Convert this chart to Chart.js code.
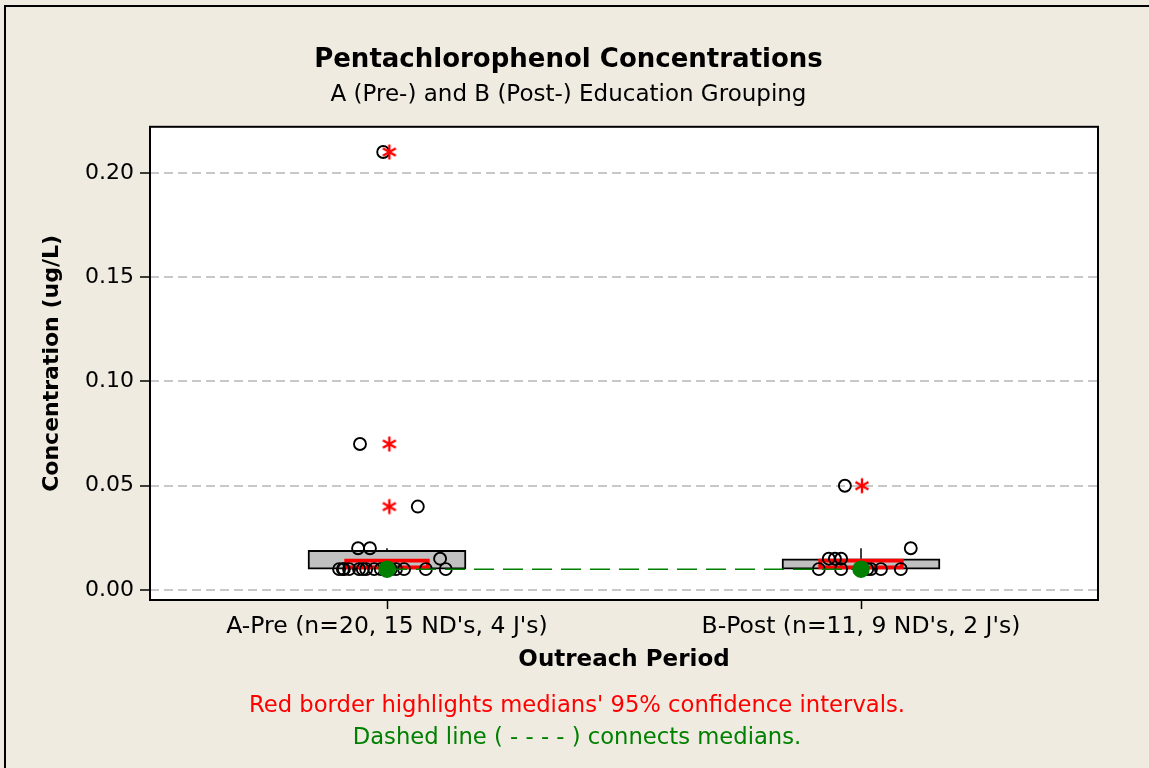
<!DOCTYPE html>
<html>
<head>
<meta charset="utf-8">
<script src="https://cdn.jsdelivr.net/npm/chart.js@4"></script>
<style>
  html, body { margin: 0; padding: 0; background: #EFEBE1; }
  canvas { display: block; }
</style>
</head>
<body>
<canvas id="myChart" width="1149" height="768"></canvas>
<script>
const categories = ["A-Pre (n=20, 15 ND's, 4 J's)", "B-Post (n=11, 9 ND's, 2 J's)"];
const yTicks = [0, 0.05, 0.10, 0.15, 0.20];

// individual results (ug/L) and their horizontal jitter
const preValues = [0.21, 0.07, 0.04, 0.02, 0.02, 0.015,
    0.01, 0.01, 0.01, 0.01, 0.01, 0.01, 0.01, 0.01, 0.01, 0.01, 0.01, 0.01, 0.01, 0.01];
const preJitter = [-0.008, -0.057, 0.065, -0.061, -0.036, 0.112,
    -0.101, -0.093, -0.091, -0.080, -0.059, -0.051, -0.044, -0.027, -0.013, 0.008, 0.019, 0.036, 0.082, 0.124];
const postValues = [0.05, 0.02, 0.015, 0.015, 0.015, 0.01, 0.01, 0.01, 0.01, 0.01, 0.01];
const postJitter = [-0.034, 0.105, -0.068, -0.055, -0.042, -0.089, -0.042, 0.013, 0.021, 0.042, 0.084];

// box statistics
const boxQ1 = [0.01, 0.01];
const boxQ3 = [0.019, 0.015];
const whiskerTop = [0.02, 0.02];
const ciLow = [0.01, 0.01];
const ciHigh = [0.015, 0.015];
const medians = [0.01, 0.01];
const preOutliers = [0.21, 0.07, 0.04];
const postOutliers = [0.05];

const green = '#008000';
const font = "'DejaVu Sans', Verdana, sans-serif";

// 6-armed asterisk marker
function makeAsterisk() {
    const c = document.createElement('canvas');
    c.width = 20; c.height = 20;
    const g = c.getContext('2d');
    g.strokeStyle = '#ff0000';
    g.lineWidth = 2.4;
    g.translate(10, 10);
    for (let a of [90, 30, -30]) {
        const r = a * Math.PI / 180;
        g.beginPath();
        g.moveTo(-7.5 * Math.cos(r), -7.5 * Math.sin(r));
        g.lineTo(7.5 * Math.cos(r), 7.5 * Math.sin(r));
        g.stroke();
    }
    return c;
}
const asterisk = makeAsterisk();

function points(values, jitter, pos) {
    return values.map((v, i) => ({x: pos + jitter[i], y: v}));
}

const boxes = categories.map((c, i) => ({x: i + 1, y: [boxQ1[i], boxQ3[i]]}));
const cis = categories.map((c, i) => ({x: i + 1, y: [ciLow[i], ciHigh[i]]}));

const bgPlugin = {
    id: 'bg',
    beforeDraw(chart) {
        const ctx = chart.ctx;
        const a = chart.chartArea;
        ctx.save();
        ctx.fillStyle = '#EFEBE1';
        ctx.fillRect(0, 0, chart.width, chart.height);
        ctx.strokeStyle = '#000';
        ctx.lineWidth = 2;
        ctx.beginPath();
        ctx.moveTo(5, chart.height);
        ctx.lineTo(5, 6);
        ctx.lineTo(chart.width, 6);
        ctx.stroke();
        ctx.fillStyle = '#ffffff';
        ctx.fillRect(a.left, a.top, a.right - a.left, a.bottom - a.top);
        ctx.restore();
    },
    afterDraw(chart) {
        const ctx = chart.ctx;
        const a = chart.chartArea;
        ctx.save();
        ctx.strokeStyle = '#000';
        ctx.lineWidth = 2;
        ctx.strokeRect(a.left, a.top, a.right - a.left, a.bottom - a.top);
        // footnotes
        ctx.font = '22.7px ' + font;
        ctx.textAlign = 'center';
        ctx.textBaseline = 'middle';
        ctx.fillStyle = '#ff0000';
        ctx.fillText("Red border highlights medians' 95% confidence intervals.", 577, 706);
        ctx.fillStyle = green;
        ctx.fillText("Dashed line ( - - - - ) connects medians.", 577, 738);
        ctx.restore();
    }
};

const ctx = document.getElementById('myChart');

new Chart(ctx, {
    type: 'scatter',
    data: {
        datasets: [
            {
                type: 'line',
                label: 'medians',
                data: medians.map((v, i) => ({x: i + 1, y: v})),
                borderColor: green,
                borderWidth: 1.5,
                borderDash: [20, 9],
                pointRadius: 8,
                pointBackgroundColor: green,
                pointBorderColor: green,
                fill: false,
                order: 0
            },
            {
                label: 'pre outliers',
                data: preOutliers.map(v => ({x: 1.005, y: v})),
                pointStyle: asterisk,
                order: 1
            },
            {
                label: 'post outliers',
                data: postOutliers.map(v => ({x: 2.002, y: v})),
                pointStyle: asterisk,
                order: 1
            },
            {
                label: 'pre',
                data: points(preValues, preJitter, 1),
                pointRadius: 6,
                borderColor: '#000',
                borderWidth: 1.9,
                backgroundColor: 'rgba(0,0,0,0)',
                order: 2
            },
            {
                label: 'post',
                data: points(postValues, postJitter, 2),
                pointRadius: 6,
                borderColor: '#000',
                borderWidth: 1.9,
                backgroundColor: 'rgba(0,0,0,0)',
                order: 2
            },
            {
                type: 'bar',
                label: 'ci',
                data: cis,
                barThickness: 85,
                grouped: false,
                backgroundColor: '#C0C0C0',
                borderColor: '#ff0000',
                borderWidth: 4,
                borderSkipped: false,
                order: 3
            },
            {
                type: 'line',
                label: 'whisker A',
                data: [{x: 1, y: boxQ3[0]}, {x: 1, y: whiskerTop[0]}],
                borderColor: '#000',
                borderWidth: 1.5,
                pointRadius: 0,
                order: 5
            },
            {
                type: 'line',
                label: 'whisker B',
                data: [{x: 2, y: boxQ3[1]}, {x: 2, y: whiskerTop[1]}],
                borderColor: '#000',
                borderWidth: 1.5,
                pointRadius: 0,
                order: 5
            },
            {
                type: 'bar',
                label: 'box',
                data: boxes,
                barThickness: 158,
                grouped: false,
                backgroundColor: '#C0C0C0',
                borderColor: '#000',
                borderWidth: 2,
                borderSkipped: false,
                order: 4
            }
        ]
    },
    options: {
        responsive: false,
        animation: false,
        layout: {padding: {left: 39, right: 51, top: 5, bottom: 0}},
        plugins: {
            legend: {display: false},
            tooltip: {enabled: false},
            title: {
                display: true,
                text: 'Pentachlorophenol Concentrations',
                color: '#000',
                font: {family: font, size: 26, weight: 'bold'},
                padding: {top: 40, bottom: 0}
            },
            subtitle: {
                display: true,
                text: 'A (Pre-) and B (Post-) Education Grouping',
                color: '#000',
                font: {family: font, size: 23},
                padding: {top: 5, bottom: 18}
            }
        },
        scales: {
            x: {
                type: 'linear',
                min: 0.5,
                max: 2.5,
                offset: false,
                afterBuildTicks: s => { s.ticks = [{value: 1}, {value: 2}]; },
                afterFit: s => { s.height = 168; },
                ticks: {
                    callback: v => categories[v - 1],
                    color: '#000',
                    font: {family: font, size: 23.5},
                    padding: 4,
                    maxRotation: 0,
                    autoSkip: false
                },
                grid: {offset: false, drawOnChartArea: false, tickLength: 9, tickColor: '#000', tickWidth: 1.5},
                border: {display: false},
                title: {
                    display: true,
                    text: 'Outreach Period',
                    color: '#000',
                    font: {family: font, size: 23, weight: 'bold'},
                    padding: {bottom: 94}
                }
            },
            y: {
                min: -0.0048,
                max: 0.2221,
                afterBuildTicks: s => { s.ticks = yTicks.map(v => ({value: v})); },
                afterFit: s => { s.width = 111; },
                ticks: {
                    callback: v => v.toFixed(2),
                    color: '#000',
                    font: {family: font, size: 22},
                    padding: 6
                },
                grid: {color: '#C8C8C8', lineWidth: 2, tickLength: 10, tickColor: '#000', tickWidth: 1.5, tickBorderDash: []},
                border: {display: false, dash: [9, 5]},
                title: {
                    display: true,
                    text: 'Concentration (ug/L)',
                    color: '#000',
                    font: {family: font, size: 22, weight: 'bold'},
                    padding: {top: 0}
                }
            }
        }
    },
    plugins: [bgPlugin]
});
</script>
</body>
</html>
